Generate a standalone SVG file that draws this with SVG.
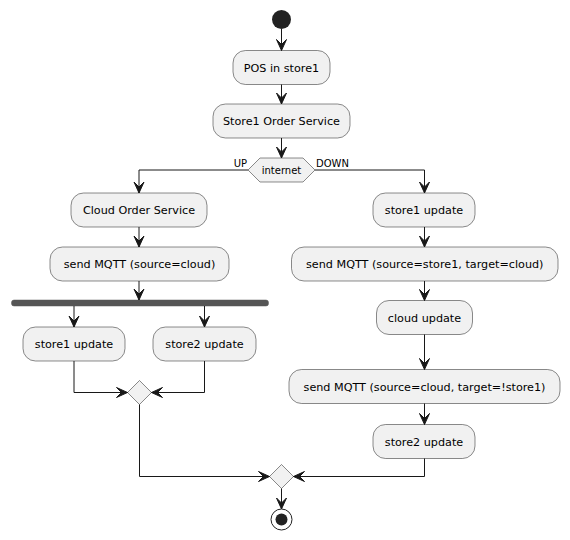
<svg xmlns="http://www.w3.org/2000/svg" width="570" height="540" viewBox="0 0 570 540">
<style>
.box{fill:#F1F1F1;stroke:#181818;stroke-width:0.5}
.t{font-family:"DejaVu Sans",sans-serif;font-size:11.2px;fill:#000;text-anchor:middle}
.lbl{font-family:"DejaVu Sans",sans-serif;font-size:10px;fill:#000}
.ln{fill:none;stroke:#181818;stroke-width:1}
.ah{fill:#181818;stroke:#181818;stroke-width:1}
</style>
<defs>
<polygon id="ad" points="-5,-11 0,0 5,-11 0,-6"/>
</defs>
<rect width="570" height="540" fill="#FFFFFF"/>
<g id="start"><circle cx="281.5" cy="19.5" r="9.5" fill="#222222"/></g>
<g id="n_pos"><rect class="box" x="233" y="50.5" width="97" height="34" rx="12.5"/><text class="t" x="281.5" y="71.5">POS in store1</text></g>
<g id="n_store1os"><rect class="box" x="213" y="104" width="137" height="34" rx="12.5"/><text class="t" x="281.5" y="125">Store1 Order Service</text></g>
<g id="n_internet"><polygon class="box" points="248,170 260,158 303,158 315,170 303,182 260,182"/><text class="lbl" x="281.5" y="173.5" text-anchor="middle">internet</text></g>
<g id="n_cloudos"><rect class="box" x="71" y="193" width="136" height="34" rx="12.5"/><text class="t" x="139" y="214">Cloud Order Service</text></g>
<g id="n_mqtt_cloud"><rect class="box" x="50" y="247" width="179" height="34" rx="12.5"/><text class="t" x="139.5" y="268">send MQTT (source=cloud)</text></g>
<g id="n_fork"><rect x="11.5" y="300" width="257" height="6" rx="2.5" fill="#555555" stroke="#555555" stroke-width="0.5"/></g>
<g id="n_s1_left"><rect class="box" x="23" y="327" width="102" height="34" rx="12.5"/><text class="t" x="74" y="348">store1 update</text></g>
<g id="n_s2_left"><rect class="box" x="153" y="327" width="103" height="34" rx="12.5"/><text class="t" x="204.5" y="348">store2 update</text></g>
<g id="n_merge1"><polygon class="box" points="127.5,392.5 139.5,380.5 151.5,392.5 139.5,404.5"/></g>
<g id="n_s1_right"><rect class="box" x="373" y="193" width="102" height="34" rx="12.5"/><text class="t" x="424" y="214">store1 update</text></g>
<g id="n_mqtt_s1"><rect class="box" x="291.5" y="247" width="266.5" height="34" rx="12.5"/><text class="t" x="424.75" y="268">send MQTT (source=store1, target=cloud)</text></g>
<g id="n_cloudupd"><rect class="box" x="376.5" y="300.5" width="96" height="34" rx="12.5"/><text class="t" x="424.5" y="321.5">cloud update</text></g>
<g id="n_mqtt_cloud2"><rect class="box" x="289" y="369.5" width="271" height="34" rx="12.5"/><text class="t" x="424.5" y="390.5">send MQTT (source=cloud, target=!store1)</text></g>
<g id="n_s2_right"><rect class="box" x="373" y="424.5" width="102" height="34" rx="12.5"/><text class="t" x="424" y="445.5">store2 update</text></g>
<g id="n_merge2"><polygon class="box" points="269.5,476.5 281.5,464.5 293.5,476.5 281.5,488.5"/></g>
<g id="end"><circle cx="281.5" cy="519.5" r="10.5" fill="none" stroke="#222222" stroke-width="1"/><circle cx="281.5" cy="519.5" r="6" fill="#222222"/></g>
<g id="connectors">
<path class="ln" d="M281.5,29 V50.5"/><use href="#ad" class="ah" transform="translate(281.5,50.5)"/>
<path class="ln" d="M281.5,84.5 V104"/><use href="#ad" class="ah" transform="translate(281.5,104)"/>
<path class="ln" d="M281.5,138 V158"/><use href="#ad" class="ah" transform="translate(281.5,158)"/>
<path class="ln" d="M248,170 H139 V193"/><use href="#ad" class="ah" transform="translate(139,193)"/>
<text class="lbl" x="247" y="166.5" text-anchor="end">UP</text>
<path class="ln" d="M315,170 H424.5 V193"/><use href="#ad" class="ah" transform="translate(424.5,193)"/>
<text class="lbl" x="316" y="166.5">DOWN</text>
<path class="ln" d="M139,227 V247"/><use href="#ad" class="ah" transform="translate(139,247)"/>
<path class="ln" d="M139,281 V300"/><use href="#ad" class="ah" transform="translate(139,300)"/>
<path class="ln" d="M74,306 V327"/><use href="#ad" class="ah" transform="translate(74,327)"/>
<path class="ln" d="M204.5,306 V327"/><use href="#ad" class="ah" transform="translate(204.5,327)"/>
<path class="ln" d="M74,361 V392.5 H127.5"/><use href="#ad" class="ah" transform="translate(127.5,392.5) rotate(-90)"/>
<path class="ln" d="M204.5,361 V392.5 H151.5"/><use href="#ad" class="ah" transform="translate(151.5,392.5) rotate(90)"/>
<path class="ln" d="M139.5,404.5 V476.5 H269.5"/><use href="#ad" class="ah" transform="translate(269.5,476.5) rotate(-90)"/>
<path class="ln" d="M424.5,227 V247"/><use href="#ad" class="ah" transform="translate(424.5,247)"/>
<path class="ln" d="M424.5,281 V300.5"/><use href="#ad" class="ah" transform="translate(424.5,300.5)"/>
<path class="ln" d="M424.5,334.5 V369.5"/><use href="#ad" class="ah" transform="translate(424.5,369.5)"/>
<path class="ln" d="M424.5,403.5 V424.5"/><use href="#ad" class="ah" transform="translate(424.5,424.5)"/>
<path class="ln" d="M424.5,458.5 V476.5 H293.5"/><use href="#ad" class="ah" transform="translate(293.5,476.5) rotate(90)"/>
<path class="ln" d="M281.5,488.5 V509"/><use href="#ad" class="ah" transform="translate(281.5,509)"/>
</g>
</svg>
